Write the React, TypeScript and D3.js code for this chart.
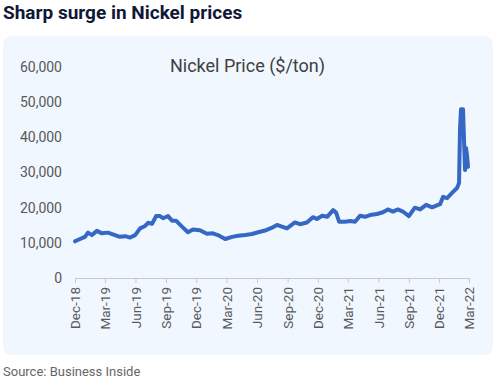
import React from 'react';
import * as d3 from 'd3';

// Nickel price ($/ton)
const dates = [
  '2018-12-01', '2018-12-04', '2018-12-31', '2019-01-09', '2019-01-21', '2019-02-05', '2019-02-20',
  '2019-03-10', '2019-03-25', '2019-04-15', '2019-05-01', '2019-05-16', '2019-05-31', '2019-06-15',
  '2019-06-30', '2019-07-09', '2019-07-21', '2019-08-02', '2019-08-14', '2019-08-23', '2019-09-07',
  '2019-09-19', '2019-10-01', '2019-10-19', '2019-11-06', '2019-11-21', '2019-12-12', '2020-01-02',
  '2020-01-20', '2020-02-04', '2020-02-26', '2020-03-18', '2020-04-05', '2020-04-26', '2020-05-17',
  '2020-06-04', '2020-06-25', '2020-07-16', '2020-07-31', '2020-08-15', '2020-08-30', '2020-09-23',
  '2020-10-08', '2020-10-29', '2020-11-16', '2020-11-28', '2020-12-14', '2020-12-29', '2021-01-16',
  '2021-01-25', '2021-02-03', '2021-02-21', '2021-03-08', '2021-03-23', '2021-04-07', '2021-04-22',
  '2021-05-07', '2021-05-28', '2021-06-15', '2021-06-30', '2021-07-15', '2021-07-30', '2021-08-14',
  '2021-09-01', '2021-09-19', '2021-10-05', '2021-10-23', '2021-11-10', '2021-11-28', '2021-12-04',
  '2021-12-13', '2021-12-25', '2022-01-09', '2022-01-24', '2022-01-30', '2022-02-02', '2022-02-05',
  '2022-02-11', '2022-02-17', '2022-02-20', '2022-02-23', '2022-02-26'
];
const prices = [
  10400, 10600, 11700, 12900, 12200, 13400, 12700,
  12900, 12400, 11700, 11900, 11500, 12200, 14100,
  14800, 15700, 15400, 17600, 17600, 17000, 17600,
  16300, 16300, 14600, 13000, 13800, 13600, 12600,
  12700, 12200, 11100, 11700, 12000, 12200, 12500,
  13000, 13500, 14300, 15100, 14600, 14100, 15800,
  15300, 15800, 17300, 16800, 17700, 17400, 19300,
  18600, 16000, 16000, 16200, 16000, 17700, 17400,
  17900, 18200, 18700, 19500, 18900, 19500, 18900,
  17600, 20000, 19500, 20800, 20100, 20800, 21000,
  23100, 22700, 24200, 25600, 27000, 42500, 48000,
  48000, 30700, 37000, 35000, 31600
];
const tickLabels = [
  'Dec-18', 'Mar-19', 'Jun-19', 'Sep-19', 'Dec-19', 'Mar-20', 'Jun-20',
  'Sep-20', 'Dec-20', 'Mar-21', 'Jun-21', 'Sep-21', 'Dec-21', 'Mar-22'
];
const yTicks = [0, 10000, 20000, 30000, 40000, 50000, 60000];

const width = 500;
const height = 386;

const App: React.FC = () => {
  const svgRef = React.useRef<SVGSVGElement>(null);

  React.useEffect(() => {
    if (!svgRef.current) return;
    const svg = d3.select(svgRef.current);
    svg.selectAll('*').remove();

    const parseDate = d3.timeParse('%Y-%m-%d');
    const parseTick = d3.timeParse('%b-%y');
    const tickDates = tickLabels.map(t => parseTick(t) as Date);
    const points = dates.map((d, i) => ({ date: parseDate(d) as Date, value: prices[i] }));

    const x = d3.scaleTime()
      .domain([tickDates[0], tickDates[tickDates.length - 1]])
      .range([75, 469]);
    const y = d3.scaleLinear().domain([0, 60000]).range([278, 67]);

    // title + panel
    svg.append('text')
      .attr('x', 3).attr('y', 19)
      .attr('font-family', 'Roboto').attr('font-weight', 700).attr('font-size', 19)
      .attr('fill', '#101838')
      .text('Sharp surge in Nickel prices');

    svg.append('rect')
      .attr('x', 3).attr('y', 36).attr('width', 490).attr('height', 319)
      .attr('rx', 8).attr('fill', '#f0f7fe');

    svg.append('text')
      .attr('x', 247.5).attr('y', 72).attr('text-anchor', 'middle')
      .attr('font-family', 'Roboto').attr('font-size', 18).attr('fill', '#404040')
      .text('Nickel Price ($/ton)');

    // y labels
    svg.append('g')
      .selectAll('text')
      .data(yTicks)
      .enter().append('text')
      .attr('x', 62).attr('y', d => y(d)).attr('dy', '0.35em')
      .attr('text-anchor', 'end')
      .attr('font-family', 'Roboto').attr('font-size', 14).attr('fill', '#595959')
      .text(d => d3.format(',')(d));

    // x axis
    const xAxis = svg.append('g')
      .attr('transform', `translate(0,${y(0)})`)
      .call(d3.axisBottom(x).tickValues(tickDates).tickSize(5).tickSizeOuter(0)
        .tickFormat(d => d3.timeFormat('%b-%y')(d as Date)));
    xAxis.select('.domain').attr('stroke', '#c9c9c9');
    xAxis.selectAll('.tick line').attr('stroke', '#c9c9c9');
    xAxis.selectAll('.tick text')
      .attr('font-family', 'Roboto').attr('font-size', 13.5).attr('fill', '#595959')
      .attr('transform', 'rotate(-90)')
      .attr('text-anchor', 'end')
      .attr('x', -9).attr('y', 0).attr('dy', '0.35em');

    // line
    const line = d3.line<{ date: Date; value: number }>()
      .x(d => x(d.date))
      .y(d => y(d.value));
    svg.append('path')
      .datum(points)
      .attr('fill', 'none')
      .attr('stroke', '#3568c4')
      .attr('stroke-width', 4)
      .attr('stroke-linejoin', 'round')
      .attr('stroke-linecap', 'round')
      .attr('d', line);

    svg.append('text')
      .attr('x', 3).attr('y', 376)
      .attr('font-family', 'Roboto').attr('font-size', 13).attr('fill', '#666')
      .text('Source: Business Inside');
  }, []);

  return (
    <svg ref={svgRef} width={width} height={height}
      style={{ position: 'absolute', left: 0, top: 0, background: '#fff' }} />
  );
};

export default App;
